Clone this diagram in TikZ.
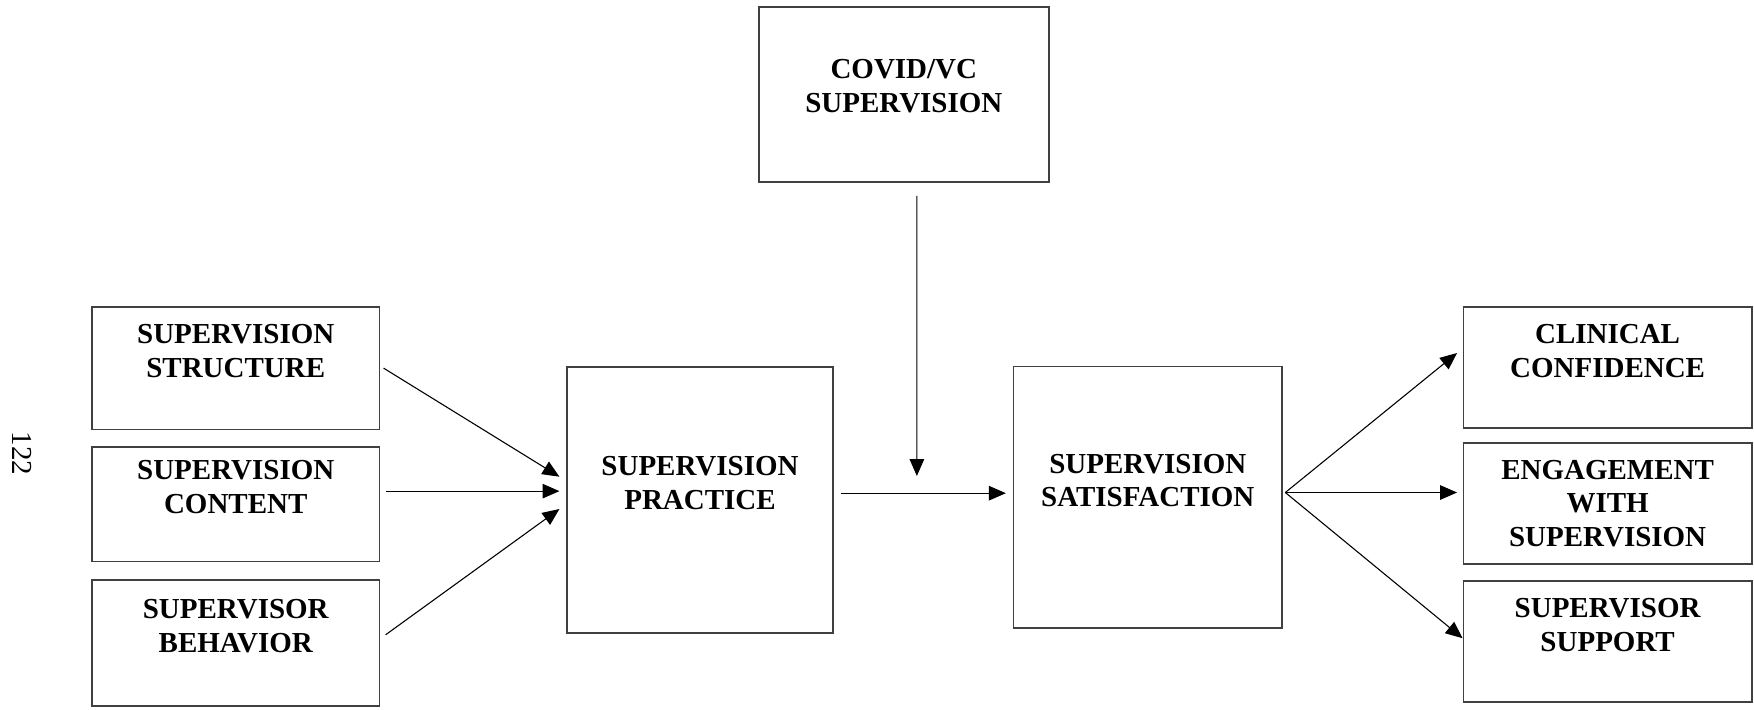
\documentclass[tikz,border=0pt]{standalone}
\usepackage{fontspec}
\setmainfont{Liberation Serif}
\usetikzlibrary{arrows.meta}
\tikzset{
  box/.style={draw=black!75,line width=0.6pt,align=center,inner sep=0pt,
    font=\fontsize{12}{14}\selectfont\bfseries},
  link/.style={-{Triangle[length=7pt,width=6pt]},line width=0.45pt}
}
\begin{document}
\begin{tikzpicture}
  \path[use as bounding box] (0,0) rectangle (25.52,10.316);
  \node[rotate=-90,font=\fontsize{12}{14}\selectfont] (pagenum) at (0.32,3.72) {122};
  \node[box,minimum width=4.18cm,minimum height=1.78cm] (struct) at (3.43,4.96) {SUPERVISION\\STRUCTURE\\\mbox{}};
  \node[box,minimum width=4.18cm,minimum height=1.66cm] (content) at (3.43,2.98) {SUPERVISION\\CONTENT\\\mbox{}};
  \node[box,minimum width=4.18cm,minimum height=1.83cm] (behav) at (3.43,0.96) {SUPERVISOR\\BEHAVIOR\\\mbox{}};
  \node[box,minimum width=3.87cm,minimum height=3.87cm] (prac) at (10.185,3.04) {SUPERVISION\\PRACTICE\\\mbox{}};
  \node[box,minimum width=4.22cm,minimum height=2.55cm] (covid) at (13.15,8.94) {COVID/VC\\SUPERVISION\\[-7pt]\mbox{}};
  \node[box,minimum width=3.91cm,minimum height=3.80cm] (satis) at (16.70,3.08) {SUPERVISION\\SATISFACTION\\\mbox{}};
  \node[box,minimum width=4.2cm,minimum height=1.76cm] (confid) at (23.39,4.97) {CLINICAL\\CONFIDENCE\\\mbox{}};
  \node[box,minimum width=4.2cm,minimum height=1.76cm] (engage) at (23.39,2.99) {ENGAGEMENT\\WITH\\SUPERVISION};
  \node[box,minimum width=4.2cm,minimum height=1.76cm] (support) at (23.39,0.98) {SUPERVISOR\\SUPPORT\\\mbox{}};
  \coordinate (meet) at (13.34,3.39);
  \coordinate (fan) at ([xshift=1pt,yshift=0.07cm]satis.east);
  \draw[link] ([xshift=0.05cm]struct.east) -- ([xshift=-0.1cm,yshift=0.34cm]prac.west);
  \draw[link] ([xshift=0.08cm,yshift=0.19cm]content.east) -- ([xshift=-0.1cm,yshift=0.13cm]prac.west);
  \draw[link] ([xshift=0.08cm,yshift=0.12cm]behav.east) -- ([xshift=-0.1cm,yshift=-0.13cm]prac.west);
  \draw[link] ([xshift=0.1cm,yshift=0.1cm]prac.east) -- ([xshift=-0.1cm,yshift=0.06cm]satis.west);
  \draw[link] ([xshift=0.19cm,yshift=-0.19cm]covid.south) -- (meet);
  \draw[link] (fan) -- ([xshift=-0.08cm,yshift=0.21cm]confid.west);
  \draw[link] (fan) -- ([xshift=-0.08cm,yshift=0.16cm]engage.west);
  \draw[link] (fan) -- ([yshift=0.05cm]support.west);
\end{tikzpicture}
\end{document}
